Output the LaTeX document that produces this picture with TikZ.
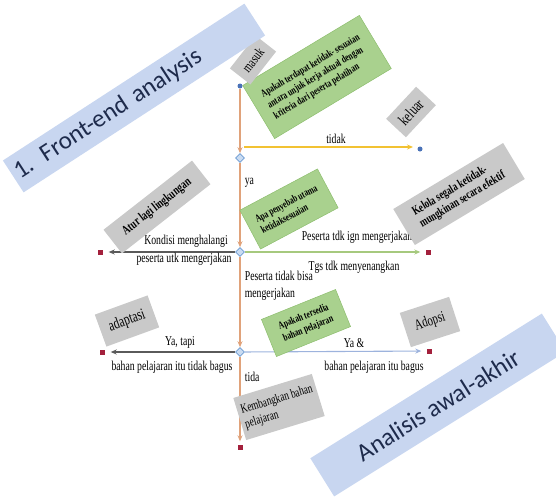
\documentclass[tikz,border=0pt]{standalone}
\usepackage{fontspec}
\setmainfont{Liberation Serif}
\newfontfamily\bannerfont{Carlito}
\usetikzlibrary{shapes.geometric,arrows.meta}

\definecolor{flowor}{HTML}{E0A27A}
\definecolor{flowye}{HTML}{F2C233}
\definecolor{flowgr}{HTML}{A6C97E}
\definecolor{flowbl}{HTML}{9DB3DD}
\definecolor{flowdk}{HTML}{5A5A5A}
\definecolor{qfill}{HTML}{A9D18E}
\definecolor{qdraw}{HTML}{8DBE6E}
\definecolor{afill}{HTML}{C9C9C9}
\definecolor{bfill}{HTML}{C8D6F0}
\definecolor{btext}{HTML}{1E2B4C}
\definecolor{dotbl}{HTML}{4A72B8}
\definecolor{endrd}{HTML}{A3203C}
\definecolor{decfill}{HTML}{CADCF2}
\definecolor{decdraw}{HTML}{6A9AD2}

\tikzset{
  dec/.style={diamond, draw=decdraw, fill=decfill, line width=0.6pt,
    minimum size=9pt, inner sep=0pt},
  dot/.style={circle, fill=dotbl, minimum size=5pt, inner sep=0pt},
  endsq/.style={rectangle, fill=endrd, minimum size=5pt, inner sep=0pt},
  flow/.style={line width=1.1pt, -{Stealth[length=6pt,width=5pt]}},
  vflow/.style={flow, draw=flowor},
  % narrow lettering: turn the node, then squeeze it sideways in its own frame
  turned/.style={rotate=#1, xscale=0.72},
  lbl/.style={xscale=0.72, align=left, font=\fontsize{13.5}{17}\selectfont, inner sep=1pt},
  qbox/.style={draw=qdraw, fill=qfill, line width=0.5pt, align=left,
    font=\bfseries\fontsize{10.5}{12.5}\selectfont, inner sep=3pt},
  abox/.style={fill=afill, align=left, font=\fontsize{13}{14}\selectfont, inner sep=3pt},
  banner/.style={fill=bfill, text=btext, font=\bannerfont\fontsize{25}{28}\selectfont,
    inner ysep=2pt}
}

\begin{document}
\begin{tikzpicture}[x=1pt,y=-1pt]
\useasboundingbox (0,0) rectangle (556,498);

% decision points and terminals
\node[dot] (in) at (240,86) {};
\node[dec] (d1) at (240,158) {};
\node[dec] (d2) at (240,252) {};
\node[dec] (d3) at (240,352) {};
\node[dot] (out) at (420,149) {};
\node[endsq] (e1) at (100,252) {};
\node[endsq] (e2) at (428,252) {};
\node[endsq] (e3) at (102,352) {};
\node[endsq] (e4) at (429,351) {};
\node[endsq] (e5) at (240,447) {};
\coordinate (y0) at (244,147);
\coordinate (y1) at (413,147);

% main downward path
\draw[vflow] (in) -- (d1);
\draw[vflow] (d1) -- (d2);
\draw[vflow] (d2) -- (d3);
\draw[vflow, shorten >=3pt] (d3) -- (e5);

% branches
\draw[flow, draw=flowye] (y0) -- (y1);
\draw[flow, draw=flowdk, shorten >=6pt] (d2) -- (e1);
\draw[flow, draw=flowgr, shorten >=5pt] (d2) -- (e2);
\draw[flow, draw=flowdk, shorten >=6pt] (d3) -- (e3);
\draw[flow, draw=flowbl, shorten >=5pt] (d3) -- (e4);

% branch labels
\node[lbl] (lTidak) at (336,139) {tidak};
\node[lbl, anchor=west] (lYa) at (244,183) {ya};
\node[lbl] (lKondisi) at (186,241) {Kondisi menghalangi};
\node[lbl] (lPeserta) at (184,259) {peserta utk mengerjakan};
\node[lbl] (lIngin) at (357,237) {Peserta tdk ign mengerjakan};
\node[lbl] (lTgs) at (354,267) {Tgs tdk menyenangkan};
\node[lbl, anchor=north west] (lBisa) at (244,270) {Peserta tidak bisa\\mengerjakan};
\node[lbl] (lYaTapi) at (180,342) {Ya, tapi};
\node[lbl] (lTdkBagus) at (172,367) {bahan pelajaran itu tidak bagus};
\node[lbl] (lYaDan) at (354,343) {Ya \&};
\node[lbl] (lBagus) at (374,367) {bahan pelajaran itu bagus};
\node[lbl, anchor=west] (lTida) at (244,377) {tida};

% questions (widths given before the sideways squeeze)
\node[qbox, turned=31, minimum width=189pt, minimum height=62pt] (q1) at (317,77)
  {Apakah terdapat ketidak- sesuaian\\antara unjuk kerja aktual dengan\\kriteria dari peserta pelatihan};
\node[qbox, turned=28, minimum width=122pt, minimum height=44pt] (q2) at (289,209)
  {Apa penyebab utama\\ketidaksesuaian};
\node[qbox, turned=22, minimum width=111pt, minimum height=40pt] (q3) at (306,323)
  {Apakah tersedia\\bahan pelajaran};

% actions
\node[abox, turned=52, minimum width=58pt, minimum height=26pt, font=\fontsize{14}{15}\selectfont] (aMasuk) at (253,60) {masuk};
\node[abox, turned=47, minimum width=61pt, minimum height=27pt, font=\fontsize{16}{17}\selectfont] (aKeluar) at (411,112) {keluar};
\node[abox, turned=38, minimum width=156pt, minimum height=30pt, font=\bfseries\fontsize{13}{14}\selectfont] (aAtur) at (157,207) {Atur lagi lingkungan};
\node[abox, turned=31, minimum width=178pt, minimum height=42pt, font=\bfseries\fontsize{12.5}{14}\selectfont] (aKelola) at (459,194) {Kelola segala ketidak-\\mungkinan secara efektif};
\node[abox, turned=20, minimum width=78pt, minimum height=34pt, font=\fontsize{16}{17}\selectfont] (aAdaptasi) at (127,321) {adaptasi};
\node[abox, turned=18, minimum width=72pt, minimum height=36pt, font=\fontsize{15}{16}\selectfont] (aAdopsi) at (430,322) {Adopsi};
\node[abox, turned=17, minimum width=114pt, minimum height=44pt, font=\fontsize{13}{15}\selectfont] (aKembang) at (279,407) {Kembangkan bahan\\pelajaran};

% titles
\node[banner, rotate=33, text width=280pt, align=left, inner xsep=4pt, minimum height=38pt] (tFront) at (134,98) {1. Front-end analysis};
\node[banner, rotate=32, minimum width=273pt, minimum height=45pt] (tAwal) at (438,405) {Analisis awal-akhir};
\end{tikzpicture}
\end{document}
